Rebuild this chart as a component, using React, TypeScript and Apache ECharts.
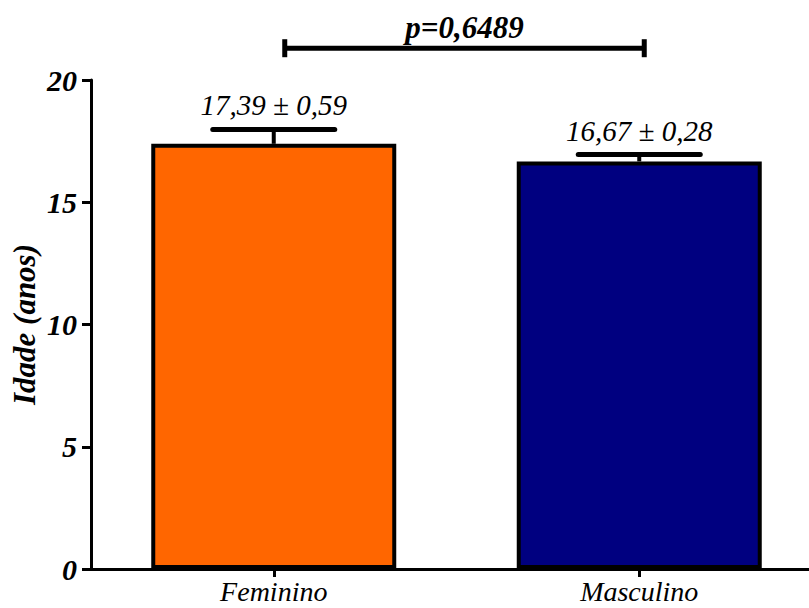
import React, { useEffect, useRef } from "react";
import * as echarts from "echarts";

const categories = ["Feminino", "Masculino"];
const means = [17.39, 16.67];
const sems = [0.59, 0.28];
const meanLabels = ["17,39 ± 0,59", "16,67 ± 0,28"];
const yTicks = [0, 5, 10, 15, 20];
const pLabel = "p=0,6489";
const bracketValue = 21.3;
const barColors = ["#FF6600", "#000080"];

const FONT = "'Liberation Serif', 'Times New Roman', serif";

export default function App() {
  const ref = useRef<HTMLDivElement>(null);
  useEffect(() => {
    if (!ref.current) return;
    const chart = echarts.init(ref.current, null, { renderer: "svg" });
    const option: any = {
      animation: false,
      backgroundColor: "#ffffff",
      grid: {
        left: 91,
        right: -13,
        top: 80,
        bottom: 39,
        containLabel: false,
        outerBoundsMode: "none",
      },
      xAxis: {
        type: "category",
        data: categories,
        axisLine: { show: true, lineStyle: { color: "#000", width: 3 } },
        axisTick: { show: true, alignWithLabel: true, length: 8, lineStyle: { color: "#000", width: 3 } },
        axisLabel: {
          color: "#000",
          fontFamily: FONT,
          fontStyle: "italic",
          fontSize: 28,
          margin: 8,
          interval: 0,
        },
      },
      yAxis: {
        type: "value",
        min: 0,
        max: 20,
        interval: 5,
        name: "Idade (anos)",
        nameLocation: "middle",
        nameGap: 51,
        nameRotate: 90,
        nameMoveOverlap: false,
        nameTextStyle: {
          color: "#000",
          fontFamily: FONT,
          fontStyle: "italic",
          fontWeight: "bold",
          fontSize: 31,
        },
        axisLine: { show: true, lineStyle: { color: "#000", width: 3 } },
        axisTick: { show: true, length: 9, lineStyle: { color: "#000", width: 3 } },
        splitLine: { show: false },
        axisLabel: {
          color: "#000",
          fontFamily: FONT,
          fontStyle: "italic",
          fontWeight: "bold",
          fontSize: 30,
          margin: 14,
          formatter: (v: number) => (yTicks.includes(v) ? String(v) : ""),
        },
      },
      series: [
        {
          type: "bar",
          data: means.map((m, i) => ({ value: m, itemStyle: { color: barColors[i] } })),
          barWidth: 245,
          itemStyle: { borderColor: "#000", borderWidth: 4 },
          z: 2,
        },
        {
          type: "custom",
          clip: false,
          z: 3,
          data: means.map((m, i) => [i, m, sems[i]]),
          renderItem: (params: any, api: any) => {
            const i = api.value(0);
            const m = api.value(1);
            const s = api.value(2);
            const base = api.coord([i, m]);
            const top = api.coord([i, m + s]);
            const half = 61;
            return {
              type: "group",
              children: [
                {
                  type: "line",
                  shape: { x1: base[0], y1: base[1], x2: top[0], y2: top[1] },
                  style: { stroke: "#000", lineWidth: 4 },
                },
                {
                  type: "line",
                  shape: { x1: top[0] - half, y1: top[1], x2: top[0] + half, y2: top[1] },
                  style: { stroke: "#000", lineWidth: 5, lineCap: "round" },
                },
                {
                  type: "text",
                  x: top[0],
                  y: top[1] - 24,
                  style: {
                    text: meanLabels[params.dataIndex],
                    fill: "#000",
                    font: `italic 29px ${FONT}`,
                    align: "center",
                    verticalAlign: "middle",
                  },
                },
              ],
            };
          },
        },
        {
          type: "custom",
          clip: false,
          z: 3,
          data: [[0, 1, bracketValue]],
          renderItem: (params: any, api: any) => {
            const v = api.value(2);
            const a = api.coord([api.value(0), v]);
            const b = api.coord([api.value(1), v]);
            const x1 = a[0] + 11;
            const x2 = b[0] + 5;
            const y = a[1];
            return {
              type: "group",
              children: [
                { type: "line", shape: { x1, y1: y, x2, y2: y }, style: { stroke: "#000", lineWidth: 5 } },
                { type: "line", shape: { x1, y1: y - 9, x2: x1, y2: y + 9 }, style: { stroke: "#000", lineWidth: 5 } },
                { type: "line", shape: { x1: x2, y1: y - 9, x2, y2: y + 9 }, style: { stroke: "#000", lineWidth: 5 } },
                {
                  type: "text",
                  x: (x1 + x2) / 2,
                  y: y - 21,
                  style: {
                    text: pLabel,
                    fill: "#000",
                    font: `italic bold 31px ${FONT}`,
                    align: "center",
                    verticalAlign: "middle",
                  },
                },
              ],
            };
          },
        },
      ],
    };
    chart.setOption(option);
    return () => chart.dispose();
  }, []);
  return (
    <div
      ref={ref}
      style={{ position: "fixed", left: 0, top: 0, width: 809, height: 608, background: "#fff" }}
    />
  );
}
